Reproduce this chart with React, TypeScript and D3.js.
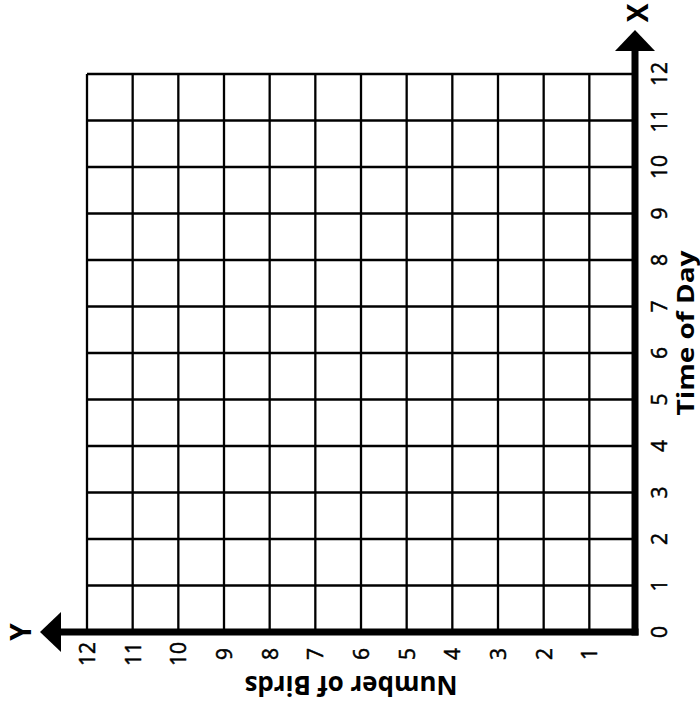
import React from 'react';
import * as d3 from 'd3';

// chart data: blank 12 x 12 grid, axes rotated a quarter turn
const timeTicks = [0, 1, 2, 3, 4, 5, 6, 7, 8, 9, 10, 11, 12];
const birdTicks = [1, 2, 3, 4, 5, 6, 7, 8, 9, 10, 11, 12];
const xTitle = 'Time of Day';
const yTitle = 'Number of Birds';

const width = 700;
const height = 709;

const App = () => {
    // Time of Day runs upwards along the right side
    const timeScale = d3.scaleLinear().domain([0, 12]).range([632, 74]);
    // Number of Birds runs leftwards along the bottom
    const birdScale = d3.scaleLinear().domain([0, 12]).range([635, 87]);

    const x0 = birdScale(0);
    const y0 = timeScale(0);
    const font = '"Open Sans", "DejaVu Sans", sans-serif';

    return (
        <div style={{ position: 'absolute', left: 0, top: 0 }}>
            <svg width={width} height={height} style={{ display: 'block', background: '#fff' }}>
                {/* horizontal grid lines (time) */}
                {timeTicks.filter(t => t > 0).map(t => (
                    <line key={'h' + t} x1={birdScale(12)} x2={x0} y1={timeScale(t)} y2={timeScale(t)}
                        stroke="#000" strokeWidth={2.3} />
                ))}
                {/* vertical grid lines (birds) */}
                {birdTicks.map(b => (
                    <line key={'v' + b} x1={birdScale(b)} x2={birdScale(b)} y1={timeScale(12)} y2={y0}
                        stroke="#000" strokeWidth={2.3} />
                ))}

                {/* X axis, vertical with arrow at top */}
                <line x1={x0} x2={x0} y1={y0 + 3.5} y2={48} stroke="#000" strokeWidth={7} />
                <path d={`M${x0},30 L${x0 + 20},51 L${x0 - 20},51 Z`} fill="#000" />
                {/* Y axis, horizontal with arrow at left */}
                <line x1={x0 + 3.5} x2={58} y1={y0} y2={y0} stroke="#000" strokeWidth={7} />
                <path d={`M40,${y0} L61,${y0 - 20} L61,${y0 + 20} Z`} fill="#000" />

                {/* time tick labels */}
                {timeTicks.map(t => (
                    <text key={'tl' + t} transform={`translate(667,${timeScale(t)}) rotate(-90)`}
                        textAnchor="middle" fontFamily={font} fontSize={21} stroke="#000" strokeWidth={0.5}>
                        {t}
                    </text>
                ))}
                {/* bird tick labels */}
                {birdTicks.map(b => (
                    <text key={'bl' + b} transform={`translate(${birdScale(b) + 8},654) rotate(-90)`}
                        textAnchor="middle" fontFamily={font} fontSize={21} stroke="#000" strokeWidth={0.5}>
                        {b}
                    </text>
                ))}

                {/* axis letters */}
                <text transform="translate(648,13) rotate(-90)" textAnchor="middle"
                    fontFamily={font} fontSize={28} fontWeight="bold">X</text>
                <text transform={`translate(31,${y0}) rotate(-90)`} textAnchor="middle"
                    fontFamily={font} fontSize={28} fontWeight="bold">Y</text>

                {/* axis titles */}
                <text transform="translate(694,333) rotate(-90)" textAnchor="middle"
                    fontFamily={font} fontSize={24} fontWeight="bold" textLength={165} lengthAdjust="spacingAndGlyphs">
                    {xTitle}
                </text>
                <text transform="translate(351,676) rotate(180)" textAnchor="middle"
                    fontFamily={font} fontSize={26} fontWeight="bold" textLength={213} lengthAdjust="spacingAndGlyphs">
                    {yTitle}
                </text>
            </svg>
        </div>
    );
};

export default App;
